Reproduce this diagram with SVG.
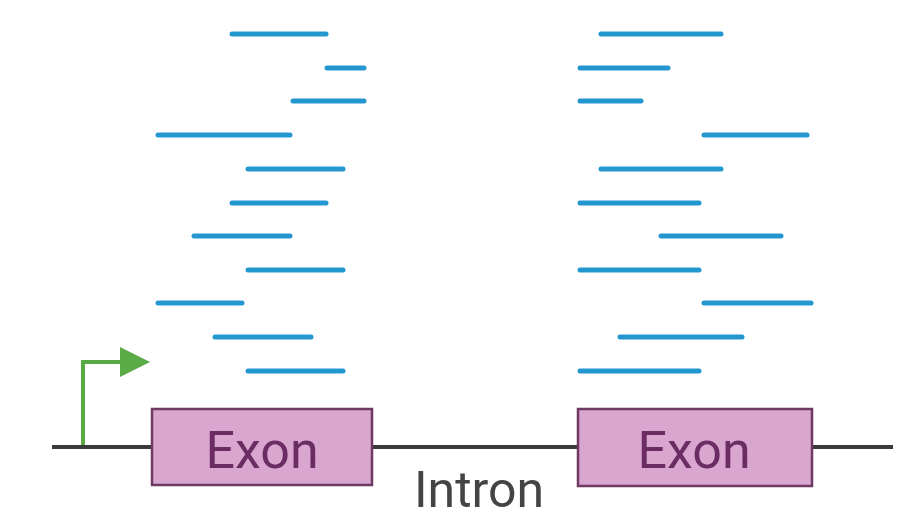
<svg xmlns="http://www.w3.org/2000/svg" width="912" height="520" viewBox="0 0 912 520">
<style>
.read{stroke:#2597d0;stroke-width:5;stroke-linecap:round;fill:none}
.dna{stroke:#3a3a3a;stroke-width:4;fill:none}
.exon{fill:#d9a6cf;stroke:#6e3a64;stroke-width:2.5}
.lbl{font-family:Roboto,"Liberation Sans",sans-serif;font-size:52px;text-anchor:middle}
</style>
<rect width="912" height="520" fill="#ffffff"/>
<g id="connectors">
<line class="dna" x1="52" y1="447" x2="893" y2="447"/>
<polyline points="83,445 83,362 122,362" fill="none" stroke="#5aaa46" stroke-width="4"/>
<polygon points="120,347 150,362 120,377" fill="#5aaa46"/>
</g>
<g id="reads-left">
<line class="read" x1="232" y1="34" x2="326" y2="34"/>
<line class="read" x1="327" y1="68" x2="364" y2="68"/>
<line class="read" x1="293" y1="101" x2="364" y2="101"/>
<line class="read" x1="158" y1="135" x2="290" y2="135"/>
<line class="read" x1="248" y1="169" x2="343" y2="169"/>
<line class="read" x1="232" y1="203" x2="326" y2="203"/>
<line class="read" x1="194" y1="236" x2="290" y2="236"/>
<line class="read" x1="248" y1="270" x2="343" y2="270"/>
<line class="read" x1="158" y1="303" x2="242" y2="303"/>
<line class="read" x1="215" y1="337" x2="311" y2="337"/>
<line class="read" x1="248" y1="371" x2="343" y2="371"/>
</g>
<g id="reads-right">
<line class="read" x1="601" y1="34" x2="721" y2="34"/>
<line class="read" x1="580" y1="68" x2="668" y2="68"/>
<line class="read" x1="580" y1="101" x2="641" y2="101"/>
<line class="read" x1="704" y1="135" x2="807" y2="135"/>
<line class="read" x1="601" y1="169" x2="721" y2="169"/>
<line class="read" x1="580" y1="203" x2="699" y2="203"/>
<line class="read" x1="661" y1="236" x2="781" y2="236"/>
<line class="read" x1="580" y1="270" x2="699" y2="270"/>
<line class="read" x1="704" y1="303" x2="811" y2="303"/>
<line class="read" x1="620" y1="337" x2="742" y2="337"/>
<line class="read" x1="580" y1="371" x2="699" y2="371"/>
</g>
<g id="exon1">
<rect class="exon" x="152" y="409" width="220" height="76"/>
<text class="lbl" x="262" y="468" fill="#6a2c62">Exon</text>
</g>
<g id="exon2">
<rect class="exon" x="578" y="409" width="234" height="77"/>
<text class="lbl" x="694" y="468" fill="#6a2c62">Exon</text>
</g>
<g id="intron">
<text class="lbl" x="479" y="507" fill="#444444" style="font-size:50px">Intron</text>
</g>
</svg>
